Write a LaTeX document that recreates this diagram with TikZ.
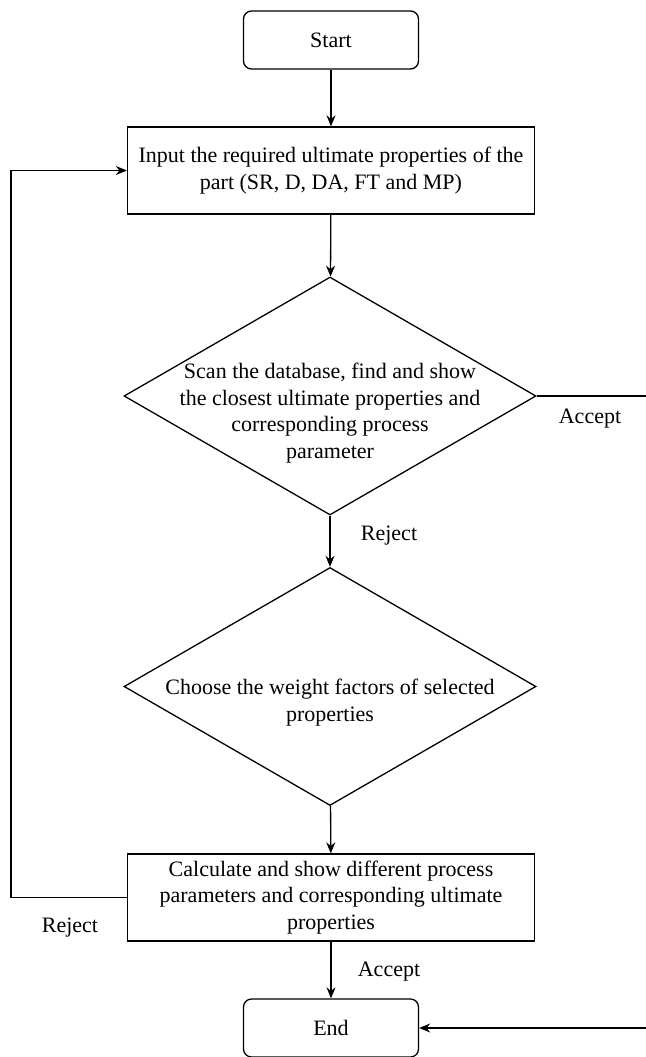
\documentclass[tikz,border=0pt]{standalone}
\usepackage{fontspec}
\setmainfont{Liberation Serif}
\usepackage{tikz}
\usetikzlibrary{arrows.meta,positioning,shapes.geometric}

\begin{document}
\begin{tikzpicture}[
    x=1pt, y=-1pt,
    term/.style={draw, rounded corners=8pt, minimum width=175pt, minimum height=58pt, line width=1.3pt, font=\fontsize{22}{26.4}\selectfont},
    proc/.style={draw, minimum width=407pt, minimum height=87pt, align=center, line width=1.3pt, font=\fontsize{22}{26.4}\selectfont},
    dec/.style={draw, diamond, minimum width=412pt, minimum height=238pt, inner sep=0pt, line width=1.3pt},
    txt/.style={align=center, font=\fontsize{22}{26.4}\selectfont},
    arr/.style={-{Stealth[length=11pt, width=9pt]}, line width=1.3pt},
    lbl/.style={font=\fontsize{22}{26.4}\selectfont}
]
\useasboundingbox (0,0) rectangle (645,1057);

% Terminals
\node[term] (start) at (331, 40) {Start};
\node[term] (end) at (331, 1028) {End};

% Input box
\node[proc] (input) at (331, 170.5) {Input the required ultimate properties of the\\part (SR, D, DA, FT and MP)};
\draw[arr] (start) -- (input);

% First decision
\node[dec, label={[txt, yshift=-17pt]center:{Scan the database, find and show\\the closest ultimate properties and\\corresponding process\\parameter}}] (scan) at (330, 396) {};
\draw[arr] (input) -- (scan);
\node[lbl] (accept1) at (590, 419) {Accept};
\node[lbl] (reject1) at (389, 536) {Reject};

% Second decision
\node[dec, label={[txt, yshift=-16pt]center:{Choose the weight factors of selected\\properties}}] (weight) at (330, 686.5) {};
\draw[arr] (scan) -- (weight);

% Calculation box
\node[proc] (calc) at (331, 897.5) {Calculate and show different process\\parameters and corresponding ultimate\\properties};
\draw[arr] (weight) -- (calc);
\draw[arr] (calc) -- (end);
\node[lbl] (accept2) at (389, 972) {Accept};
\node[lbl] (reject2) at (70, 928) {Reject};

% Loops
\coordinate (lrail) at (11, 0);
\coordinate (rrail) at (665, 0);
\draw[arr] (calc.west) -- (calc.west -| lrail) |- (input.west);
\draw[arr] (scan.east) -- (scan.east -| rrail) |- (end.east);
\end{tikzpicture}
\end{document}
